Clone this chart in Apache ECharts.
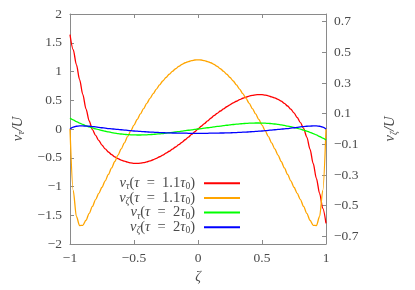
<!DOCTYPE html>
<html><head><meta charset="utf-8">
<script src="https://cdn.jsdelivr.net/npm/echarts@6/dist/echarts.min.js"></script>
<style>html,body{margin:0;padding:0;background:#fff}#c{width:415px;height:290px}</style>
</head><body><div id="c"></div>
<script>
const zeta = [-1,-0.975,-0.95,-0.925,-0.9,-0.875,-0.85,-0.825,-0.8,-0.775,-0.75,-0.725,-0.7,-0.675,-0.65,-0.625,-0.6,-0.575,-0.55,-0.525,
  -0.5,-0.475,-0.45,-0.425,-0.4,-0.375,-0.35,-0.325,-0.3,-0.275,-0.25,-0.225,-0.2,-0.175,-0.15,-0.125,-0.1,-0.075,-0.05,-0.025,0,
  0.025,0.05,0.075,0.1,0.125,0.15,0.175,0.2,0.225,0.25,0.275,0.3,0.325,0.35,0.375,0.4,0.425,0.45,0.475,0.5,
  0.525,0.55,0.575,0.6,0.625,0.65,0.675,0.7,0.725,0.75,0.775,0.8,0.825,0.85,0.875,0.9,0.925,0.95,0.975,1];
// v_tau (tau = 1.1 tau0), left axis
const vTau11 = [1.64,1.38,1.12,0.86,0.6,0.35,0.14,-0.01,-0.11,-0.2,-0.28,-0.345,-0.4,-0.445,-0.485,-0.515,-0.54,-0.56,-0.577,-0.59,
  -0.597,-0.598,-0.595,-0.586,-0.573,-0.556,-0.535,-0.51,-0.483,-0.453,-0.421,-0.387,-0.351,-0.313,-0.273,-0.231,-0.187,-0.141,-0.095,-0.048,0,
  0.048,0.095,0.141,0.187,0.231,0.273,0.313,0.351,0.387,0.421,0.453,0.483,0.51,0.535,0.556,0.573,0.586,0.595,0.598,0.597,
  0.59,0.577,0.56,0.54,0.515,0.485,0.445,0.4,0.345,0.28,0.2,0.11,0.01,-0.14,-0.35,-0.6,-0.86,-1.12,-1.38,-1.64];
// v_zeta (tau = 1.1 tau0), right axis
const vZeta11 = [0,-0.4,-0.57,-0.63,-0.628,-0.595,-0.55,-0.505,-0.46,-0.42,-0.38,-0.338,-0.296,-0.254,-0.212,-0.17,-0.13,-0.09,-0.05,-0.012,
  0.025,0.062,0.098,0.133,0.167,0.2,0.231,0.26,0.288,0.313,0.336,0.357,0.376,0.393,0.408,0.421,0.432,0.44,0.446,0.45,0.451,
  0.45,0.446,0.44,0.432,0.421,0.408,0.393,0.376,0.357,0.336,0.313,0.288,0.26,0.231,0.2,0.167,0.133,0.098,0.062,0.025,
  -0.012,-0.05,-0.09,-0.13,-0.17,-0.212,-0.254,-0.296,-0.338,-0.38,-0.42,-0.46,-0.505,-0.55,-0.595,-0.628,-0.63,-0.57,-0.4,0];
// v_tau (tau = 2 tau0), left axis
const vTau2 = [0.19,0.16,0.13,0.103,0.079,0.057,0.037,0.019,0.003,-0.012,-0.026,-0.039,-0.051,-0.062,-0.072,-0.08,-0.087,-0.093,-0.098,-0.101,
  -0.103,-0.104,-0.104,-0.103,-0.101,-0.098,-0.094,-0.089,-0.084,-0.078,-0.072,-0.065,-0.058,-0.051,-0.044,-0.037,-0.029,-0.022,-0.015,-0.007,0,
  0.007,0.015,0.022,0.029,0.037,0.044,0.051,0.058,0.065,0.072,0.078,0.084,0.089,0.094,0.098,0.101,0.103,0.104,0.104,0.103,
  0.101,0.098,0.093,0.087,0.08,0.072,0.062,0.051,0.039,0.026,0.012,-0.003,-0.019,-0.037,-0.057,-0.079,-0.103,-0.13,-0.16,-0.19];
// v_zeta (tau = 2 tau0), right axis
const vZeta2 = [0,0.012,0.018,0.02,0.02,0.019,0.018,0.016,0.014,0.011,0.008,0.006,0.003,0.001,-0.001,-0.003,-0.005,-0.007,-0.009,-0.011,
  -0.013,-0.014,-0.016,-0.017,-0.019,-0.02,-0.021,-0.022,-0.023,-0.024,-0.025,-0.025,-0.026,-0.026,-0.027,-0.027,-0.027,-0.028,-0.028,-0.028,-0.028,
  -0.028,-0.028,-0.028,-0.027,-0.027,-0.027,-0.026,-0.026,-0.025,-0.025,-0.024,-0.023,-0.022,-0.021,-0.02,-0.019,-0.017,-0.016,-0.014,-0.013,
  -0.011,-0.009,-0.007,-0.005,-0.003,-0.001,0.001,0.003,0.006,0.008,0.011,0.014,0.016,0.018,0.019,0.02,0.02,0.018,0.012,0];

const xTicks = [-1,-0.5,0,0.5,1];
const yLeftTicks = [-2,-1.5,-1,-0.5,0,0.5,1,1.5,2];
const yRightTicks = [-0.7,-0.5,-0.3,-0.1,0.1,0.3,0.5,0.7];

const FONT = 'Liberation Serif';
const TXT = '#4a4a4a';
const AX = '#8a8a8a';
const fmt = v => { const s = String(Math.round(v*100)/100); return s[0]==='-' ? '\u2212'+s.slice(1) : s; };
const pair = arr => zeta.map((z,i)=>[z,arr[i]]);

const rich = {
  i:{fontFamily:FONT,fontStyle:'italic',fontSize:14.5,color:TXT,lineHeight:13},
  n:{fontFamily:FONT,fontSize:14.5,color:TXT,lineHeight:13},
  s:{fontFamily:FONT,fontStyle:'italic',fontSize:9.5,color:TXT,lineHeight:6,padding:[7,0,0,0]},
  sn:{fontFamily:FONT,fontSize:9.5,color:TXT,lineHeight:6,padding:[7,0,0,0]},
  p:{width:11,fontSize:10,lineHeight:13},
  e:{width:4,fontSize:10,lineHeight:13}
};
const EQ = '\u2002=\u2002';
const legendText = {
  'a':'{i|v}{s|τ}{n|(}{i|τ}{n|'+EQ+'1.1}{i|τ}{sn|0}{n|)}{e| }',
  'b':'{i|v}{s|ζ}{n|(}{i|τ}{n|'+EQ+'1.1}{i|τ}{sn|0}{n|)}{e| }',
  'c':'{p| }{i|v}{s|τ}{n|(}{i|τ}{n|'+EQ+'2}{i|τ}{sn|0}{n|)}{e| }',
  'd':'{p| }{i|v}{s|ζ}{n|(}{i|τ}{n|'+EQ+'2}{i|τ}{sn|0}{n|)}{e| }'
};

const chart = echarts.init(document.getElementById('c'), null, {renderer:'canvas'});
const lineS = (name, data, color, yi) => ({
  name, type:'line', data: pair(data), yAxisIndex: yi, showSymbol:false, symbol:'none',
  smooth:0.3, smoothMonotone:'x', lineStyle:{color, width:1.3}, itemStyle:{color}, clip:true, z:3
});
chart.setOption({
  animation:false,
  grid:{left:70, right:89, top:14, bottom:46},
  legend:{
    orient:'vertical', right:174, top:174.7, align:'right', padding:0,
    itemWidth:36, itemHeight:13.7, itemGap:-2.3,
    itemStyle:{opacity:0},
    formatter: n => legendText[n],
    textStyle:{rich, fontFamily:FONT, fontSize:14.5, color:TXT, lineHeight:13},
    data:['a','b','c','d']
  },
  xAxis:[{
    type:'value', min:-1, max:1, interval:0.5, position:'bottom',
    axisLine:{onZero:false, lineStyle:{color:AX, width:1}},
    axisTick:{inside:true, length:4, lineStyle:{color:AX}},
    axisLabel:{formatter:fmt, fontFamily:FONT, fontSize:13.5, color:TXT, margin:7},
    splitLine:{show:false},
    name:'ζ', nameLocation:'middle', nameGap:25,
    nameTextStyle:{fontFamily:FONT, fontStyle:'italic', fontSize:14, color:TXT}
  },{
    type:'value', min:-1, max:1, interval:0.5, position:'top',
    axisLine:{onZero:false, lineStyle:{color:AX, width:1}},
    axisTick:{inside:true, length:4, lineStyle:{color:AX}},
    axisLabel:{show:false}, splitLine:{show:false}
  }],
  yAxis:[{
    type:'value', min:-2, max:2, interval:0.5, position:'left',
    axisLine:{show:true, onZero:false, lineStyle:{color:AX, width:1}},
    axisTick:{show:true, inside:true, length:4, lineStyle:{color:AX}},
    axisLabel:{formatter:fmt, fontFamily:FONT, fontSize:13.5, color:TXT, margin:8},
    splitLine:{show:false},
    name:'{i|v}{s|τ}{i|/U}', nameLocation:'middle', nameGap:39, nameRotate:90,
    nameTextStyle:{rich}
  },{
    type:'value', min:-0.75, max:0.75, position:'right',
    axisLine:{show:true, onZero:false, lineStyle:{color:AX, width:1}},
    axisTick:{show:true, inside:true, length:4, lineStyle:{color:AX}, customValues:yRightTicks},
    axisLabel:{formatter:fmt, fontFamily:FONT, fontSize:13.5, color:TXT, margin:8, customValues:yRightTicks},
    splitLine:{show:false},
    name:'{i|v}{s|ζ}{i|/U}', nameLocation:'middle', nameGap:58, nameRotate:90,
    nameTextStyle:{rich}
  }],
  series:[
    lineS('a', vTau11, '#ff0000', 0),
    lineS('b', vZeta11, '#ffa500', 1),
    lineS('c', vTau2, '#00ff00', 0),
    lineS('d', vZeta2, '#0000ff', 1)
  ]
});
</script></body></html>
